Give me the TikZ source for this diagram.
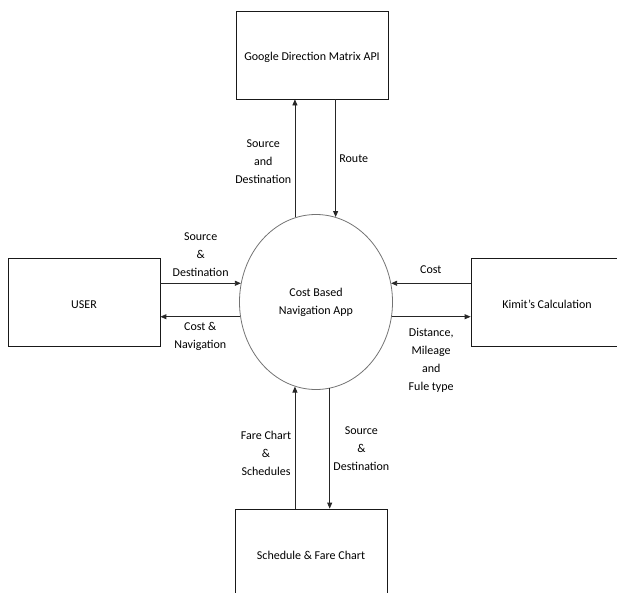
\documentclass[tikz,border=0pt]{standalone}
\usepackage{fontspec}
\setmainfont{Carlito}
\usetikzlibrary{arrows.meta,positioning,shapes}

\begin{document}
\begin{tikzpicture}[x=1pt,y=1pt,node distance=10mm,on grid,>={Triangle[length=6pt,width=5pt]},
		font=\fontsize{12}{18}\selectfont,
		block/.style={rectangle,draw=black!90,line width=0.8pt,minimum width=152pt,minimum height=88pt,
			text height=14pt,text depth=2pt},
		process/.style={ellipse,draw=black!55,line width=0.8pt,minimum width=153pt,minimum height=175pt,align=center},
		flow/.style={->,draw=black!85,line width=0.8pt},
		lbl/.style={align=center}]
		\useasboundingbox (-316,302) rectangle (301,-290);

		\node[process] (app)                                  {Cost Based\\Navigation App};
		\node[block]   (api)   [above=247pt of app,xshift=-4pt] {Google Direction Matrix API};
		\node[block]   (user)  [left=232pt of app]             {USER};
		\node[block]   (kimit) [right=231pt of app]            {Kimit’s Calculation};
		\node[block]   (fare)  [below=251pt of app,xshift=-5pt] {Schedule \& Fare Chart};

		% app <-> google api
		\draw[flow] (app.104) -- (app.104 |- api.south)
			node[lbl,left,midway,yshift=-3pt] (srcapi) {Source\\and\\Destination};
		\draw[flow] (api.south -| app.77) -- (app.77)
			node[lbl,right,midway] (route) {Route};

		% app <-> user
		\draw[flow] (user.east |- app.166) -- (app.166)
			node[lbl,above,midway,yshift=3pt] (srcuser) {Source\\\&\\Destination};
		\draw[flow] (app.-169) -- (user.east |- app.-169)
			node[lbl,below,midway,yshift=-2pt] (costnav) {Cost \&\\Navigation};

		% app <-> kimit
		\draw[flow] (kimit.west |- app.14) -- (app.14)
			node[lbl,above,midway,yshift=6pt] (cost) {Cost};
		\draw[flow] (app.-11) -- (kimit.west |- app.-11)
			node[lbl,below,midway,yshift=-8pt] (dist) {Distance,\\Mileage\\and\\Fule type};

		% app <-> schedule
		\draw[flow] (fare.north -| app.-104) -- (app.-104)
			node[lbl,left,midway,yshift=-6pt] (farelbl) {Fare Chart\\\&\\Schedules};
		\draw[flow] (app.-81) -- (fare.north -| app.-81)
			node[lbl,right,midway] (srcfare) {Source\\\&\\Destination};
\end{tikzpicture}
\end{document}
